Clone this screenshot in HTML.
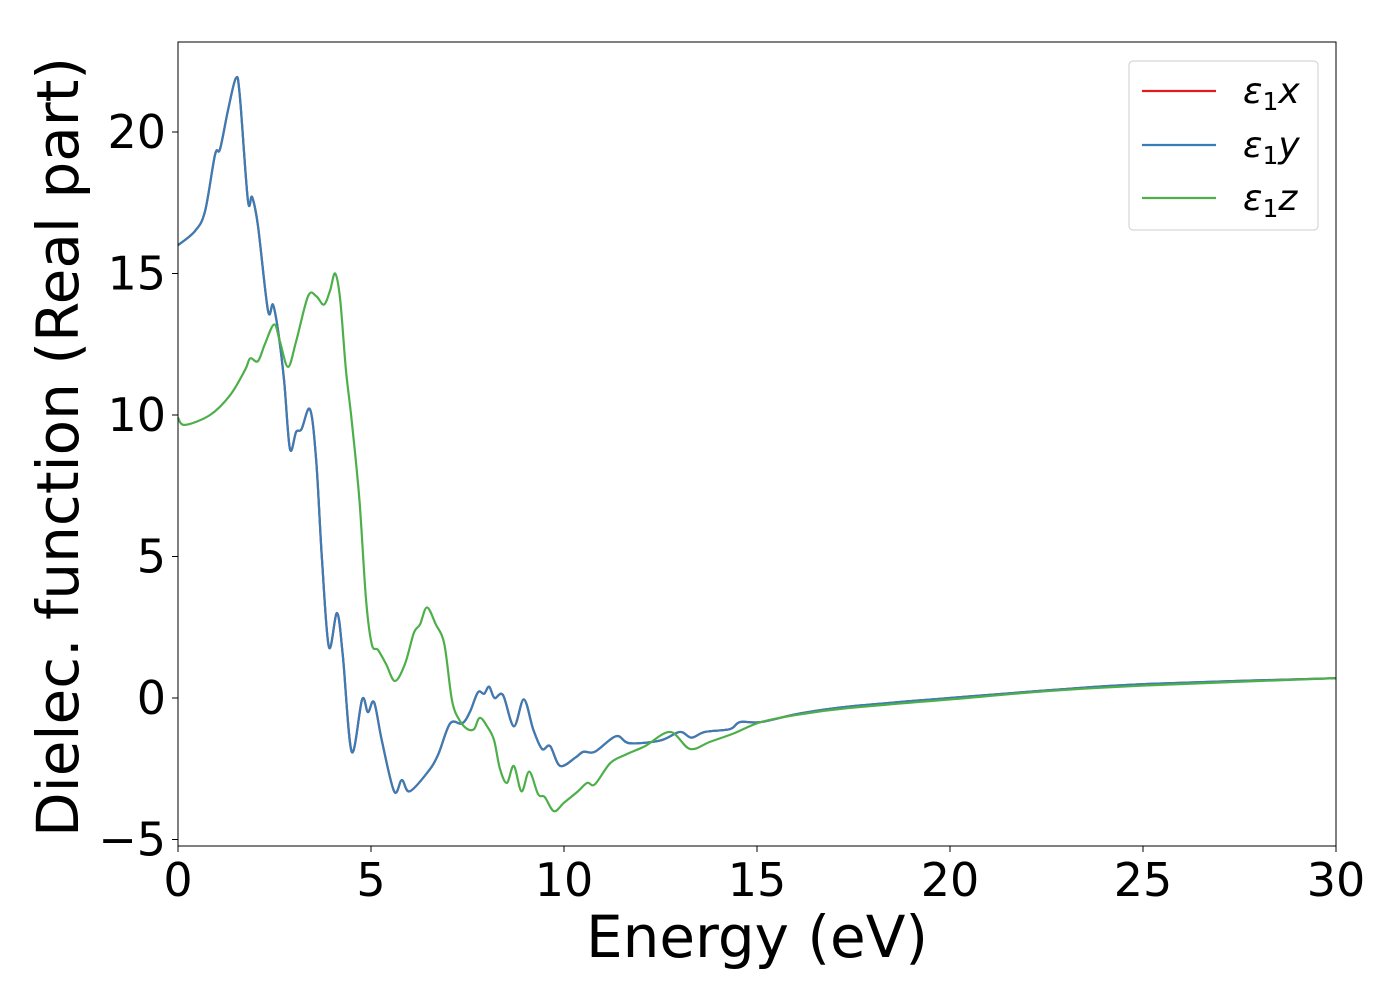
<!DOCTYPE html>
<html><head><meta charset="utf-8"><style>
body{margin:0;background:#fff}
svg text{font-family:"DejaVu Sans","Liberation Sans",sans-serif}
</style></head><body>
<svg id="chart" width="1400" height="1000" xmlns="http://www.w3.org/2000/svg">
<rect width="1400" height="1000" fill="#fff"/>
<g id="marks"></g>
<g id="axes"></g>
<g id="legend">
<rect x="1129" y="61" width="189" height="169" rx="4" fill="#fff" fill-opacity="0.8" stroke="#ccc"/>
<line x1="1142" y1="91" x2="1216" y2="91" stroke="#e41a1c" stroke-width="2.2"/>
<text x="1243" y="103" font-size="36"><tspan font-style="italic">ε</tspan><tspan font-size="25" dy="7">1</tspan><tspan font-style="italic" dy="-7">x</tspan></text>
<line x1="1142" y1="145" x2="1216" y2="145" stroke="#377eb8" stroke-width="2.2"/>
<text x="1243" y="157" font-size="36"><tspan font-style="italic">ε</tspan><tspan font-size="25" dy="7">1</tspan><tspan font-style="italic" dy="-7">y</tspan></text>
<line x1="1142" y1="198" x2="1216" y2="198" stroke="#4daf4a" stroke-width="2.2"/>
<text x="1243" y="210" font-size="36"><tspan font-style="italic">ε</tspan><tspan font-size="25" dy="7">1</tspan><tspan font-style="italic" dy="-7">z</tspan></text>
</g>
<text x="757" y="957" font-size="58" text-anchor="middle">Energy (eV)</text>
<text transform="translate(78,447) rotate(-90)" font-size="58" text-anchor="middle">Dielec. function (Real part)</text>
</svg>
<script>
const xyE=[0,0.44,0.7,0.96,1.09,1.3,1.5,1.6,1.81,1.92,2.07,2.33,2.46,2.59,2.75,2.9,3.06,3.2,3.42,3.58,3.73,3.91,4.12,4.27,4.5,4.77,4.92,5.08,5.28,5.6,5.8,6.0,6.48,6.74,7.05,7.36,7.56,7.77,7.93,8.06,8.2,8.42,8.7,8.96,9.2,9.43,9.64,9.9,10.3,10.5,10.8,11.35,11.7,12.5,13.0,13.3,13.65,14.3,14.56,15.1,16.1,17.4,20,22.6,25.2,30];
const xyV=[16.0,16.5,17.2,19.2,19.4,20.8,21.9,21.3,17.6,17.7,16.7,13.7,13.9,13.0,11.2,8.8,9.4,9.5,10.2,8.4,4.9,1.8,3.0,1.5,-1.9,-0.05,-0.5,-0.15,-1.5,-3.3,-2.9,-3.3,-2.6,-2.0,-0.9,-0.9,-0.5,0.2,0.15,0.4,0,0.1,-1.0,-0.05,-1.1,-1.8,-1.7,-2.4,-2.1,-1.9,-1.9,-1.35,-1.6,-1.5,-1.2,-1.4,-1.2,-1.1,-0.85,-0.85,-0.55,-0.3,0,0.28,0.5,0.7];
const zE=[0,0.18,0.83,1.35,1.74,1.87,2.07,2.25,2.49,2.64,2.85,3.06,3.37,3.58,3.78,3.94,4.07,4.2,4.35,4.5,4.7,4.87,5.02,5.18,5.39,5.62,5.88,6.11,6.27,6.45,6.68,6.9,7.1,7.3,7.5,7.67,7.82,8.03,8.19,8.34,8.52,8.7,8.9,9.1,9.33,9.5,9.74,10.0,10.36,10.6,10.8,11.2,11.6,12.1,12.75,13.26,13.78,14.4,15.1,16.1,17.4,20,22.6,25.2,30];
const zV=[9.9,9.65,10.0,10.7,11.6,12.0,11.9,12.5,13.2,12.6,11.7,12.6,14.2,14.2,13.9,14.4,15.0,14.1,11.6,9.8,7.0,3.5,1.9,1.7,1.2,0.6,1.2,2.3,2.6,3.2,2.6,1.9,-0.1,-0.8,-1.1,-1.1,-0.7,-1.05,-1.5,-2.5,-3.0,-2.4,-3.3,-2.6,-3.4,-3.5,-4.0,-3.7,-3.3,-3.0,-3.05,-2.3,-2.0,-1.7,-1.2,-1.8,-1.55,-1.25,-0.85,-0.58,-0.35,-0.05,0.25,0.45,0.7];
const xTicks=[0,5,10,15,20,25,30];
const yTicks=[-5,0,5,10,15,20];
const yTickLabels=["\u22125","0","5","10","15","20"];
const L=178,R=1336,T=42,B=846,xmin=0,xmax=30,ymin=-5.23,ymax=23.18;
const sx=v=>L+(v-xmin)/(xmax-xmin)*(R-L);
const sy=v=>B-(v-ymin)/(ymax-ymin)*(B-T);
const NS="http://www.w3.org/2000/svg";
function pathD(E,V){const p=E.map((e,i)=>[sx(e),sy(V[i])]);let d="M"+p[0][0]+","+p[0][1];
for(let i=0;i<p.length-1;i++){const p0=p[i-1]||p[i],p1=p[i],p2=p[i+1],p3=p[i+2]||p2;
d+=" C"+(p1[0]+(p2[0]-p0[0])/6)+","+(p1[1]+(p2[1]-p0[1])/6)+" "+(p2[0]-(p3[0]-p1[0])/6)+","+(p2[1]-(p3[1]-p1[1])/6)+" "+p2[0]+","+p2[1];}return d;}
const marks=document.getElementById('marks');
[[xyE,xyV,'#e41a1c','series-eps1-x'],[xyE,xyV,'#377eb8','series-eps1-y'],[zE,zV,'#4daf4a','series-eps1-z']].forEach(s=>{
const el=document.createElementNS(NS,'path');el.setAttribute('d',pathD(s[0],s[1]));el.setAttribute('fill','none');el.setAttribute('stroke',s[2]);el.setAttribute('stroke-width','2.2');


marks.appendChild(el);});
const ax=document.getElementById('axes');
const frame=document.createElementNS(NS,'rect');frame.setAttribute('x',L);frame.setAttribute('y',T);frame.setAttribute('width',R-L);frame.setAttribute('height',B-T);frame.setAttribute('fill','none');frame.setAttribute('stroke','#000');frame.setAttribute('stroke-width','1');


ax.appendChild(frame);
xTicks.forEach(t=>{const l=document.createElementNS(NS,'line');l.setAttribute('x1',sx(t));l.setAttribute('x2',sx(t));l.setAttribute('y1',B);l.setAttribute('y2',B+6);l.setAttribute('stroke','#000');


ax.appendChild(l);
const tx=document.createElementNS(NS,'text');tx.setAttribute('x',sx(t));tx.setAttribute('y',B+50);tx.setAttribute('font-size','46');tx.setAttribute('text-anchor','middle');tx.textContent=t;


ax.appendChild(tx);});
yTicks.forEach((t,i)=>{const l=document.createElementNS(NS,'line');l.setAttribute('x1',L-6);l.setAttribute('x2',L);l.setAttribute('y1',sy(t));l.setAttribute('y2',sy(t));l.setAttribute('stroke','#000');


ax.appendChild(l);
const tx=document.createElementNS(NS,'text');tx.setAttribute('x',L-12);tx.setAttribute('y',sy(t)+16);tx.setAttribute('font-size','46');tx.setAttribute('text-anchor','end');tx.textContent=yTickLabels[i];


ax.appendChild(tx);});
</script>
</body></html>
